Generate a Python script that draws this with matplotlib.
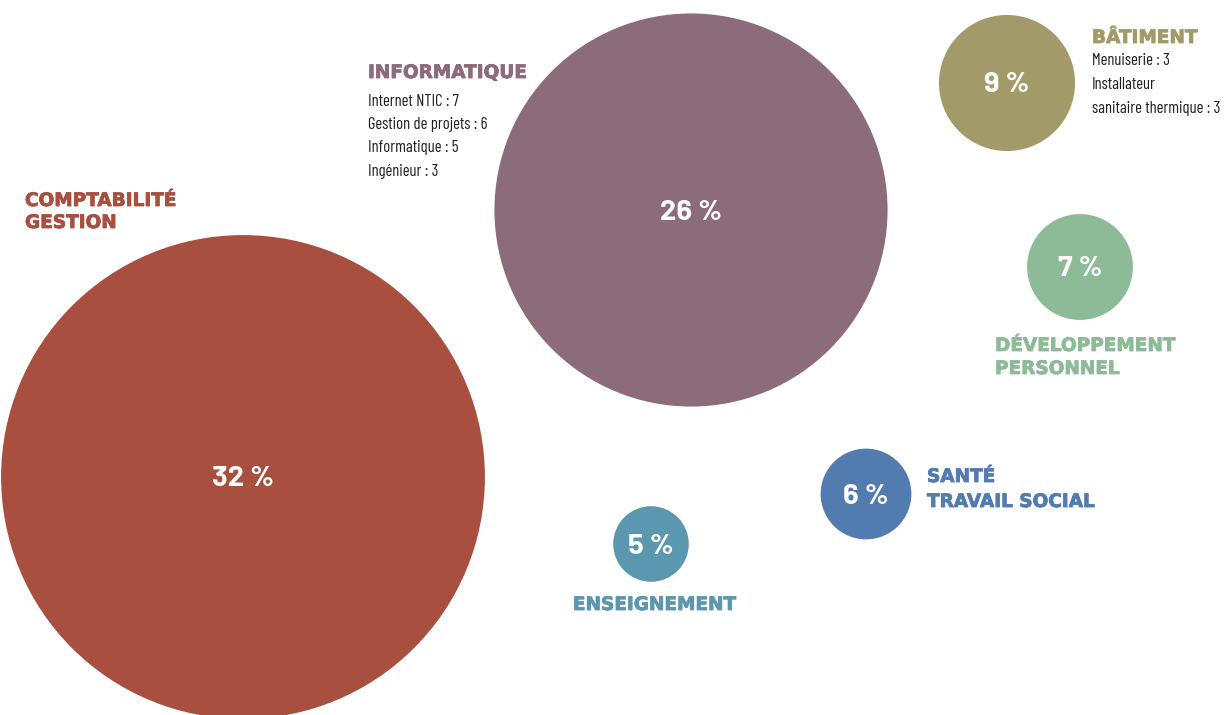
import matplotlib.pyplot as plt
import matplotlib.patheffects as pe
from matplotlib.patches import Circle
from matplotlib import font_manager

# domaines de formation et leur part (%)
domaines = [["COMPTABILITÉ", "GESTION"], ["INFORMATIQUE"], ["BÂTIMENT"],
            ["DÉVELOPPEMENT", "PERSONNEL"], ["SANTÉ", "TRAVAIL SOCIAL"], ["ENSEIGNEMENT"]]
parts = [32, 26, 9, 7, 6, 5]
couleurs = ["#A84F40", "#8C6B7A", "#A39A6A", "#8DBB98", "#527BB0", "#5C97B0"]

# détails sous certains domaines
details_info = ["Internet NTIC : 7", "Gestion de projets : 6", "Informatique : 5", "Ingénieur : 3"]
details_bat = ["Menuiserie : 3", "Installateur", "sanitaire thermique : 3"]

# centres des bulles (pixels)
centres = [(243, 477), (691, 210), (1007, 83), (1080, 267), (866, 494), (651, 544)]
px_par_pct = 7.56

noms = {f.name for f in font_manager.fontManager.ttflist}


def police(*choix):
    for nom in choix:
        if nom in noms:
            return nom
    return "DejaVu Sans"


narrow = police("Barlow Condensed", "Roboto Condensed", "Liberation Sans Narrow")
chiffres = police("Barlow", "Lato")

fig = plt.figure(figsize=(12.26, 7.15), dpi=100)
ax = fig.add_axes([0, 0, 1, 1])
ax.set_xlim(0, 1226)
ax.set_ylim(715, 0)
ax.set_aspect("equal")
ax.axis("off")

for (cx, cy), p, c in zip(centres, parts, couleurs):
    ax.add_patch(Circle((cx, cy), p * px_par_pct, color=c, lw=0))
    ax.text(cx, cy + 2, f"{p} %", color="white", fontsize=21, fontweight="bold",
            family=chiffres, ha="center", va="center")

# titres des domaines : (x, lignes de base, alignement)
titres = [(25, [206, 228], "left"), (368, [78], "left"), (1092, [43], "left"),
          (995, [351, 374], "left"), (927, [482, 507], "left"), (655, [610], "center")]
for (x, bases, ha), lignes, c in zip(titres, domaines, couleurs):
    for y, ligne in zip(bases, lignes):
        ax.text(x, y, ligne, color=c, fontsize=13.3, fontweight="bold",
                family="DejaVu Sans", ha=ha, va="baseline",
                path_effects=[pe.withStroke(linewidth=0.6, foreground=c)])

for i, t in enumerate(details_info):
    ax.text(368, 105.7 + i * 23.3, t, color="#231F20", fontsize=12, family=narrow,
            ha="left", va="baseline")
for i, t in enumerate(details_bat):
    ax.text(1092, 65 + i * 24, t, color="#231F20", fontsize=12, family=narrow,
            ha="left", va="baseline")

fig.savefig("out.png", dpi=100)
